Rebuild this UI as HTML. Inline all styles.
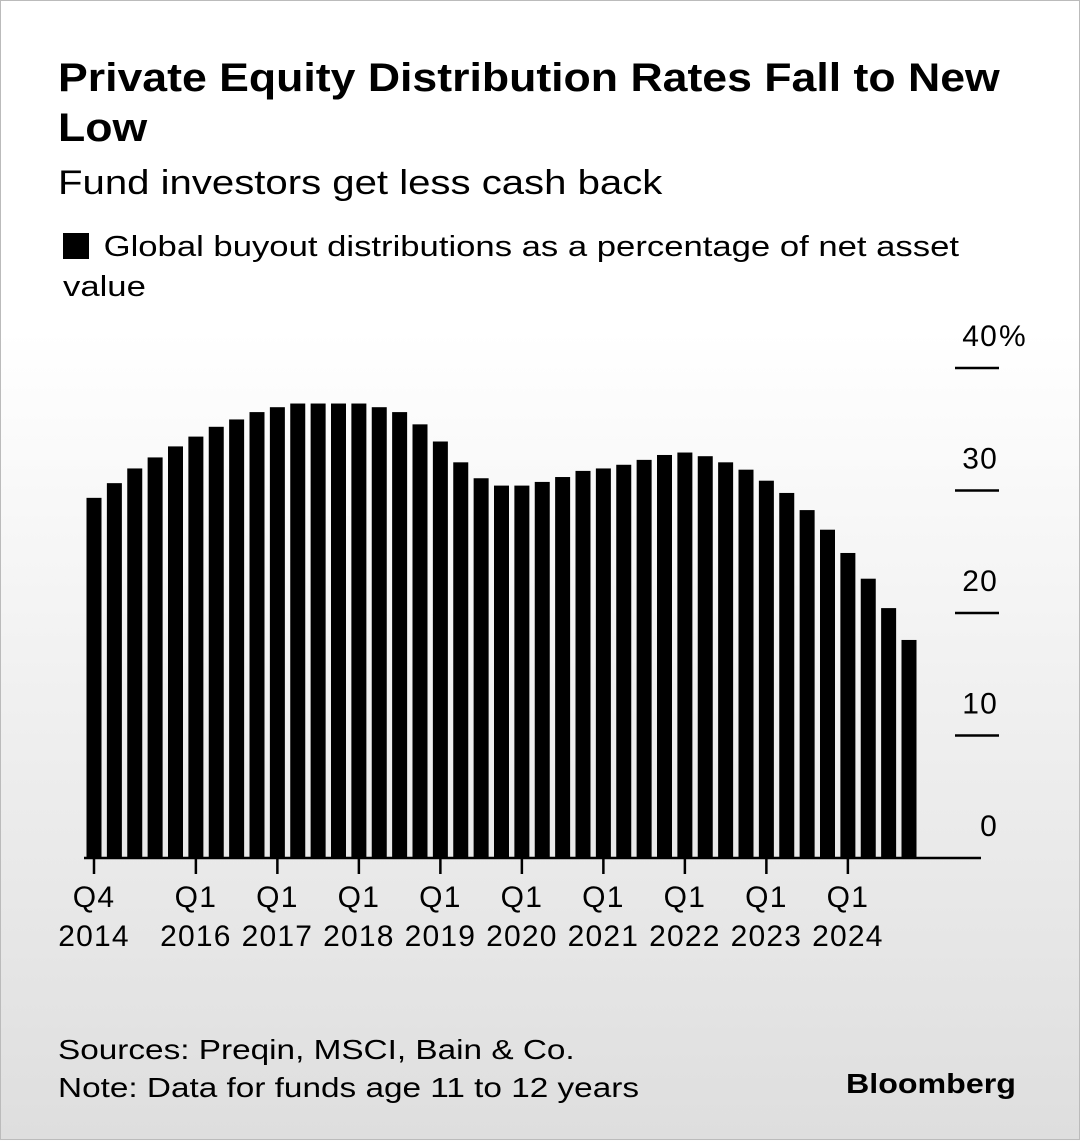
<!DOCTYPE html>
<html><head><meta charset="utf-8">
<style>
html,body{margin:0;padding:0}
body{width:1080px;height:1140px;overflow:hidden;font-family:"Liberation Sans",Arial,sans-serif;color:#000;
background:linear-gradient(#fff 0px,#fff 330px,#dedede 1140px);position:relative;box-sizing:border-box;border:1px solid #bbb}
.t{position:absolute;white-space:nowrap;transform-origin:0 0}
</style></head><body>
<div class="t" style="left:57px;top:52px;font-size:40px;font-weight:bold;line-height:50px;transform:scaleX(1.115)">Private Equity Distribution Rates Fall to New<br>Low</div>
<div class="t" style="left:57px;top:161px;font-size:34px;line-height:42px;transform:scaleX(1.18)">Fund investors get less cash back</div>
<div style="position:absolute;left:62px;top:232px;width:26px;height:26px;background:#000"></div>
<div class="t" style="left:62px;top:226px;font-size:29px;line-height:40px;transform:scaleX(1.195)"><span style="margin-left:34px">Global buyout distributions as a percentage of net asset</span><br>value</div>
<svg id="chart" width="1080" height="1140" style="position:absolute;left:0;top:0" font-family="Liberation Sans, Arial, sans-serif"></svg>
<div class="t" style="left:57px;top:1030px;font-size:28px;line-height:38px;transform:scaleX(1.19)">Sources: Preqin, MSCI, Bain &amp; Co.<br>Note: Data for funds age 11 to 12 years</div>
<div class="t" style="left:845px;top:1067px;font-size:28px;font-weight:bold;transform:scaleX(1.15)">Bloomberg</div>
<script>
const values=[29.4,30.6,31.8,32.7,33.6,34.4,35.2,35.8,36.4,36.8,37.1,37.1,37.1,37.1,36.8,36.4,35.4,34.0,32.3,31.0,30.4,30.4,30.7,31.1,31.6,31.8,32.1,32.5,32.9,33.1,32.8,32.3,31.7,30.8,29.8,28.4,26.8,24.9,22.8,20.4,17.8];
const yTicks=[0,10,20,30,40];
const xTickIdx=[0,5,9,13,17,21,25,29,33,37];
const xTickTop=["Q4","Q1","Q1","Q1","Q1","Q1","Q1","Q1","Q1","Q1"];
const xTickBot=["2014","2016","2017","2018","2019","2020","2021","2022","2023","2024"];
const svg=document.getElementById('chart');
const NS='http://www.w3.org/2000/svg';
const y0=857,pxPer=12.25,x0=93,step=20.375,bw=15;
const yS=v=>y0-v*pxPer;
const xS=i=>x0+i*step;
function mk(tag,a){const e=document.createElementNS(NS,tag);for(const k in a)e.setAttribute(k,a[k]);svg.appendChild(e);return e;}
values.forEach((v,i)=>{
 const r=mk('rect',{x:xS(i)-bw/2,y:yS(v),width:bw,height:y0-yS(v),fill:'#000'});
 
 
});
const base=mk('line',{x1:83,x2:980,y1:y0,y2:y0,stroke:'#000','stroke-width':2.5});


yTicks.forEach(t=>{
 const y=yS(t);
 if(t>0){const l=mk('line',{x1:954,x2:998,y1:y,y2:y,stroke:'#000','stroke-width':2.5});
 
 }
 const tx=mk('text',{x:997,y:y-22,'font-size':30,'text-anchor':'end','letter-spacing':1.2});
 tx.textContent=String(t);
 
 
 if(t===40){const p=mk('text',{x:998,y:y-22,'font-size':30});p.textContent='%';
 
 }
});
xTickIdx.forEach((idx,k)=>{
 const x=xS(idx);
 const l=mk('line',{x1:x,x2:x,y1:y0,y2:y0+16,stroke:'#000','stroke-width':2.5});
 
 
 const a=mk('text',{x:x,y:906,'font-size':30,'text-anchor':'middle','letter-spacing':1.2});a.textContent=xTickTop[k];
 
 
 const b=mk('text',{x:x,y:945,'font-size':30,'text-anchor':'middle','letter-spacing':1.2});b.textContent=xTickBot[k];
 
 
});
</script>
</body></html>
